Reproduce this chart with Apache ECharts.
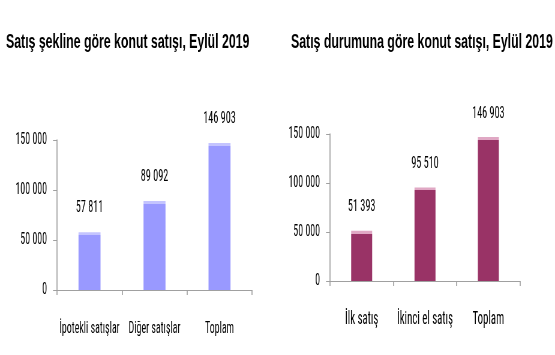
<!DOCTYPE html>
<html><head><meta charset="utf-8">
<script src="https://cdn.jsdelivr.net/npm/echarts@6/dist/echarts.min.js"></script>
<style>
html,body{margin:0;padding:0;background:#fff}
#wrap{width:555px;height:355px;overflow:hidden;position:relative}
#c{width:925px;height:355px;transform:scaleX(0.6);transform-origin:0 0}
</style>
</head><body><div id="wrap"><div id="c"></div></div>
<script>
const titleLeft = 'Satış şekline göre konut satışı, Eylül 2019';
const titleRight = 'Satış durumuna göre konut satışı, Eylül 2019';
const catsLeft = ['İpotekli satışlar', 'Diğer satışlar', 'Toplam'];
const valsLeft = [57811, 89092, 146903];
const catsRight = ['İlk satış', 'İkinci el satış', 'Toplam'];
const valsRight = [51393, 95510, 146903];
const yTicks = [0, 50000, 100000, 150000];

// the whole chart is drawn 1/0.6 wider and squeezed horizontally (narrow-font look)
const SX = 0.6;
const TFONT = '"Liberation Sans", Arial, sans-serif';
const FONT = '"Roboto Condensed", "Liberation Sans", sans-serif';
const AX = '#a0a0a0';
const TXT = '#000';
const fmt = v => String(Math.round(v)).replace(/\B(?=(\d{3})+(?!\d))/g, ' ');
function barColor(base, light, pxPerUnit) {
  return function (p) {
    const h = p.value * pxPerUnit;
    const o = Math.min(0.5, 3 / Math.max(h, 1));
    return {type: 'linear', x: 0, y: 0, x2: 0, y2: 1, colorStops: [
      {offset: 0, color: light}, {offset: o, color: light},
      {offset: o, color: base}, {offset: 1, color: base}]};
  };
}
function yAxis(idx) {
  return {
    gridIndex: idx, type: 'value', min: yTicks[0], max: yTicks[yTicks.length - 1],
    interval: yTicks[1] - yTicks[0],
    axisLine: {show: true, lineStyle: {color: AX, width: 1 / SX}},
    axisTick: {show: true, length: 4 / SX, lineStyle: {color: AX}},
    splitLine: {show: false},
    axisLabel: {formatter: fmt, fontFamily: FONT, fontSize: 16.5, color: TXT, margin: 10 / SX}
  };
}
function xAxis(idx, cats, margin, fs) {
  return {
    gridIndex: idx, type: 'category', data: cats,
    axisLine: {lineStyle: {color: AX}},
    axisTick: {show: true, length: 5, lineStyle: {color: AX, width: 1 / SX}},
    axisLabel: {fontFamily: FONT, fontSize: fs, color: TXT, margin: margin, interval: 0}
  };
}
const chart = echarts.init(document.getElementById('c'));
chart.setOption({
  animation: false,
  title: [
    {text: titleLeft, left: 3 / SX, top: 27, textStyle: {fontFamily: TFONT, fontSize: 20.5, fontWeight: 'bold', color: TXT}},
    {text: titleRight, left: 288 / SX, top: 27, textStyle: {fontFamily: TFONT, fontSize: 20.5, fontWeight: 'bold', color: TXT}}
  ],
  grid: [
    {left: 57 / SX, right: 925 - 252 / SX, top: 140, bottom: 65},
    {left: 330 / SX, right: 925 - 520 / SX, top: 134, bottom: 74}
  ],
  xAxis: [xAxis(0, catsLeft, 30, 16.5), xAxis(1, catsRight, 29, 18)],
  yAxis: [yAxis(0), yAxis(1)],
  series: [
    {type: 'bar', xAxisIndex: 0, yAxisIndex: 0, data: valsLeft, barWidth: 22 / SX,
     itemStyle: {color: barColor('#9999ff', '#c4c4ff', 150 / 150000)},
     label: {show: true, position: 'top', distance: 16, formatter: p => fmt(p.value), fontFamily: FONT, fontSize: 17, color: TXT}},
    {type: 'bar', xAxisIndex: 1, yAxisIndex: 1, data: valsRight, barWidth: 21 / SX,
     itemStyle: {color: barColor('#993366', '#e0a8c4', 147 / 150000)},
     label: {show: true, position: 'top', distance: 15, formatter: p => fmt(p.value), fontFamily: FONT, fontSize: 17, color: TXT}}
  ]
});
</script></body></html>
